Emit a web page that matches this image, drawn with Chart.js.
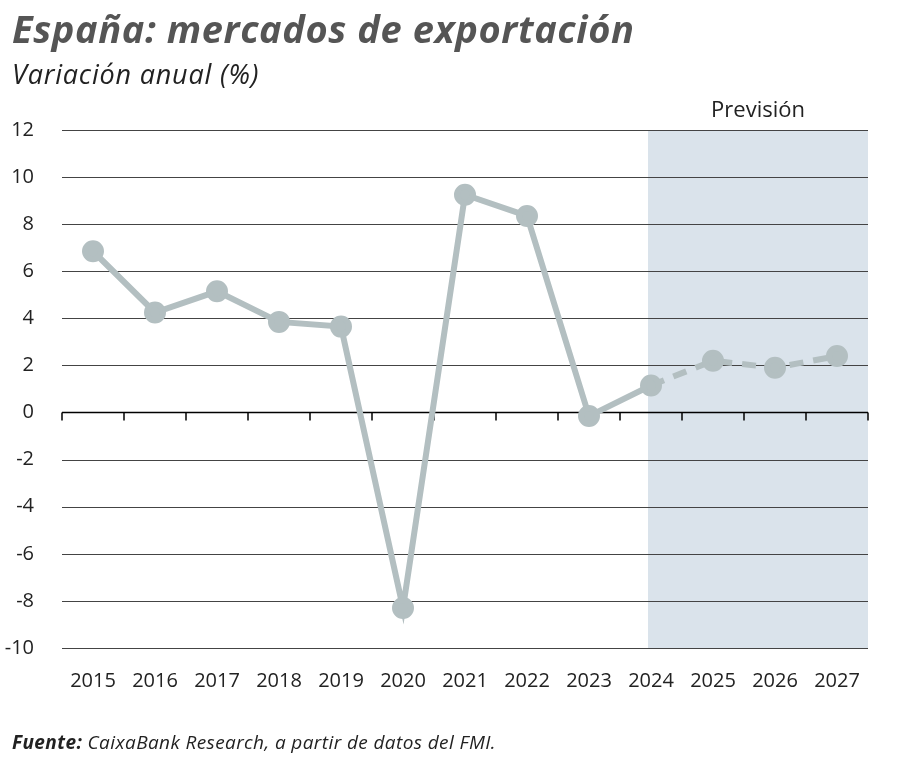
<!DOCTYPE html>
<html><head><meta charset="utf-8">
<script src="https://cdn.jsdelivr.net/npm/chart.js@4"></script>
<style>
body{margin:0;width:900px;height:771px;background:#fff;position:relative;font-family:"Open Sans",sans-serif;overflow:hidden}
#t1{position:absolute;left:12px;top:2px;font-size:38px;font-weight:bold;font-style:italic;color:#555;letter-spacing:0.6px}
#t2{position:absolute;left:12px;top:55px;font-size:27px;font-style:italic;color:#222;letter-spacing:0.8px}
#src{position:absolute;left:12px;top:729px;font-size:19px;font-style:italic;color:#222;letter-spacing:0.4px}
canvas{position:absolute;left:0;top:0}
</style></head><body>
<canvas id="c" width="900" height="771"></canvas>
<div id="t1">España: mercados de exportación</div>
<div id="t2">Variación anual (%)</div>
<div id="src"><b>Fuente:</b> CaixaBank Research, a partir de datos del FMI.</div>
<script>
const years=["2015","2016","2017","2018","2019","2020","2021","2022","2023","2024","2025","2026","2027"];
const values=[6.85,4.25,5.15,3.85,3.65,-8.3,9.25,8.35,-0.15,1.15,2.2,1.9,2.4];
const forecastStart="2024";
const forecastLabel="Previsión";
const fi=years.indexOf(forecastStart);
const deco={id:'deco',
beforeDatasetsDraw(ch){const{ctx,chartArea:a,scales:{x,y}}=ch;ctx.save();
const x0=x.getPixelForValue(fi)-3;ctx.fillStyle='#dae3eb';ctx.fillRect(x0,a.top,a.right-x0,a.bottom-a.top);
ctx.strokeStyle='#444';ctx.lineWidth=1;
for(let v=-10;v<=12;v+=2){if(v===0)continue;const py=Math.round(y.getPixelForValue(v))+0.5;ctx.beginPath();ctx.moveTo(a.left,py);ctx.lineTo(a.right,py);ctx.stroke();}
const zy=y.getPixelForValue(0);ctx.strokeStyle='#000';ctx.lineWidth=1.5;ctx.beginPath();ctx.moveTo(a.left,zy);ctx.lineTo(a.right,zy);ctx.stroke();
const w=(x.getPixelForValue(1)-x.getPixelForValue(0));
for(let i=0;i<=years.length;i++){const px=x.getPixelForValue(0)-w/2+i*w;ctx.beginPath();ctx.moveTo(px,zy);ctx.lineTo(px,zy+8);ctx.stroke();}
ctx.fillStyle='#222';ctx.font='22px "Open Sans"';ctx.textAlign='center';ctx.textBaseline='bottom';
ctx.fillText(forecastLabel,(x0+a.right)/2,a.top-8);ctx.restore();}};
new Chart(document.getElementById('c'),{type:'line',
data:{labels:years,datasets:[{data:values,borderColor:'#b3bfc1',backgroundColor:'#b3bfc1',borderWidth:6,pointRadius:8,pointHoverRadius:8,
segment:{borderDash:c=>c.p0DataIndex>=fi?[14,10]:undefined}}]},
plugins:[deco],
options:{responsive:false,animation:false,events:[],
layout:{padding:{left:0,top:130,right:32,bottom:73}},
plugins:{legend:{display:false},tooltip:{enabled:false}},
scales:{
x:{offset:true,grid:{display:false},border:{display:false},
ticks:{color:'#222',font:{size:20,family:'"Open Sans"'},padding:13,maxRotation:0},
afterFit(s){s.height=50;}},
y:{min:-10,max:12,grid:{display:false},border:{display:false},
ticks:{stepSize:2,color:'#222',font:{size:20,family:'"Open Sans"'},padding:20},
afterFit(s){s.width=62;}}}}});
</script></body></html>
